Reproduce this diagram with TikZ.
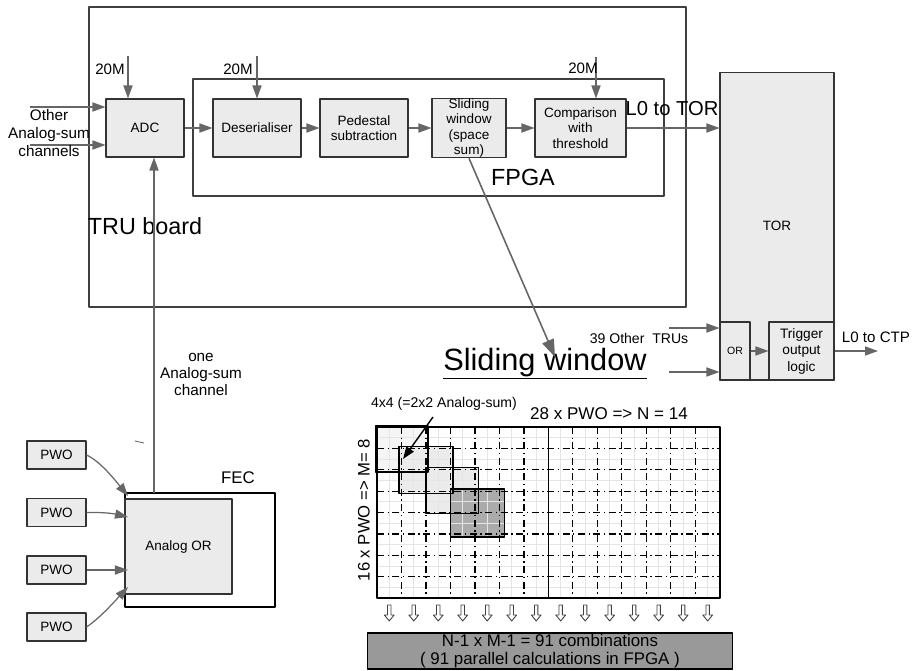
\documentclass[tikz,border=0pt]{standalone}
\usepackage{fontspec}
\setmainfont{Liberation Sans}
\usetikzlibrary{arrows.meta}

\begin{document}
\begin{tikzpicture}
% TRU board, TOR and sliding window sketch
\def\px{0.02cm}
\providecommand{\truBoxFill}{black!8}
\providecommand{\truLineColor}{black!60}
\providecommand{\truBorderColor}{black!80}
\providecommand{\hollowdn}[1]{\draw[black!75, line width=0.5pt] (#1-0.14,16.64) -- (#1+0.14,16.64) -- (#1+0.14,17.57) -- (#1+0.4,17.57) -- (#1,18.13) -- (#1-0.4,17.57) -- (#1-0.14,17.57) -- cycle;}
\tikzset{
  frame/.style={draw=black!75, line width=0.6pt},
  blk/.style={draw=\truBorderColor, fill=\truBoxFill, line width=0.6pt, inner sep=0pt, align=center, font=\fontsize{7.7}{8.9}\selectfont},
  sig/.style={draw=\truLineColor, line width=0.7pt, -{Triangle[length=7.4pt,width=5.2pt]}},
  bigsig/.style={draw=\truLineColor, line width=0.9pt, -{Triangle[length=10pt,width=7pt]}},
  lbl/.style={inner sep=0pt, align=center, font=\fontsize{8.7}{9.8}\selectfont},
  biglbl/.style={inner sep=0pt, font=\fontsize{13.3}{15}\selectfont},
}
\begin{scope}[x=\px, y=-\px, line join=round]
  \useasboundingbox (0,0) rectangle (913,670);
  % TRU board and FPGA frames
  \draw[frame] (89,7) rectangle (686,307);
  \node[biglbl] (trulbl) at (145,226) {TRU board};
  \draw[frame] (193,79) rectangle (664,196);
  \node[biglbl] (fpgalbl) at (523,177) {FPGA};
  % Processing chain
  \node[blk, minimum width=1.56cm, minimum height=1.16cm] (adc) at (145,128) {ADC};
  \node[blk, minimum width=1.76cm, minimum height=1.16cm] (deser) at (257,128) {Deserialiser};
  \node[blk, minimum width=1.76cm, minimum height=1.16cm] (pedsub) at (364,128) {Pedestal\\subtraction};
  \node[blk, minimum width=1.48cm, minimum height=1.16cm] (slidewin) at (469,128) {Sliding\\window\\(space\\sum)};
  \node[blk, minimum width=1.82cm, minimum height=1.16cm] (cmpthr) at (580.5,128) {Comparison\\with\\threshold};
  % TOR
  \node[blk, minimum width=2.28cm, minimum height=6.16cm] (tor) at (777,226) {TOR};
  \node[blk, minimum width=0.6cm, minimum height=1.16cm, font=\fontsize{6}{7}\selectfont] (orgate) at (735,351) {OR};
  \node[blk, minimum width=1.3cm, minimum height=1.16cm, font=\fontsize{7.8}{9.4}\selectfont] (trigout) at (801.5,351) {Trigger\\output\\logic};
  % Inputs of the ADC
  \coordinate (othA) at (30,107);
  \coordinate (othB) at (30,145);
  \draw[sig] (othA) -- (othA -| adc.west);
  \draw[sig] (othB) -- (othB -| adc.west);
  \node[lbl, font=\fontsize{8.7}{10.5}\selectfont] (othlbl) at (49,133) {Other\\Analog-sum\\channels};
  % Clocks
  \coordinate (clkA) at (128,56);
  \coordinate (clkB) at (257,56);
  \coordinate (clkC) at (596,57);
  \draw[sig] (clkA) -- (clkA |- adc.north);
  \draw[sig] (clkB) -- (clkB |- deser.north);
  \draw[sig] (clkC) -- (clkC |- cmpthr.north);
  \node[lbl, font=\fontsize{8.6}{9}\selectfont] (clkAlbl) at (110,69) {20M};
  \node[lbl, font=\fontsize{8.6}{9}\selectfont] (clkBlbl) at (238,69) {20M};
  \node[lbl, font=\fontsize{8.6}{9}\selectfont] (clkClbl) at (583,68) {20M};
  % Chain connectors
  \draw[sig] (adc) -- (deser);
  \draw[sig] (deser) -- (pedsub);
  \draw[sig] (pedsub) -- (slidewin);
  \draw[sig] (slidewin) -- (cmpthr);
  \draw[sig] (cmpthr.east) -- (cmpthr.east -| tor.west);
  \node[inner sep=0pt, font=\fontsize{11.5}{13}\selectfont] (l0tor) at (672,109) {L0 to TOR};
  % Other TRUs and output
  \coordinate (truA) at (669,328);
  \coordinate (truB) at (669,372);
  \draw[sig] (truA) -- (truA -| tor.west);
  \draw[sig] (truB) -- (truB -| tor.west);
  \node[lbl, font=\fontsize{8}{9}\selectfont] (trulbl39) at (639,338) {39 Other\ \ TRUs};
  \draw[sig] (orgate) -- (trigout);
  \coordinate (ctp) at (878,351);
  \draw[sig] (trigout) -- (ctp);
  \node[lbl, font=\fontsize{8.6}{9}\selectfont] (ctplbl) at (876,337) {L0 to CTP};
  % FEC with PWOs
  \draw[draw=black, line width=0.6pt] (125,493) rectangle (275,607);
  \node[inner sep=0pt, font=\fontsize{9.6}{11}\selectfont] (feclbl) at (238,478) {FEC};
  \node[blk, minimum width=2.14cm, minimum height=1.9cm] (anaor) at (178.5,546.5) {Analog OR};
  \node[blk, minimum width=1.18cm, minimum height=0.56cm] (pwoA) at (56.5,455) {PWO};
  \node[blk, minimum width=1.18cm, minimum height=0.56cm] (pwoB) at (56.5,512.5) {PWO};
  \node[blk, minimum width=1.18cm, minimum height=0.56cm] (pwoC) at (56.5,570) {PWO};
  \node[blk, minimum width=1.18cm, minimum height=0.56cm] (pwoD) at (56.5,627) {PWO};
  \coordinate (inA) at (128,496);
  \coordinate (inB) at (128,517);
  \coordinate (inC) at (128,570);
  \coordinate (inD) at (128,587);
  \draw[sig] (pwoA.east) .. controls (100,461) and (115,480) .. (inA);
  \draw[sig] (pwoB.east) .. controls (105,512) and (115,514) .. (inB);
  \draw[sig] (pwoC.east) -- (inC);
  \draw[sig] (pwoD.east) .. controls (100,618) and (115,601) .. (inD);
  \draw[draw=\truLineColor, line width=0.5pt] (135,441) -- (144,443);
  % Analog-sum channel up to the ADC
  \coordinate (chan) at (154,493);
  \draw[sig] (chan) -- (chan |- adc.south);
  \node[lbl, font=\fontsize{8.7}{9.7}\selectfont] (chanlbl) at (201,374) {one\\Analog-sum\\channel};
  % Sliding window
  \node[inner sep=0pt, anchor=base, font=\fontsize{17.5}{20}\selectfont] (swlbl) at (545,370) {\underline{Sliding window}};
  \coordinate (swtip) at (555,357);
  \draw[bigsig] (slidewin.south) -- (swtip);
  \node[lbl, font=\fontsize{9.7}{11}\selectfont] (nlbl) at (609,414) {28 x PWO => N = 14};
  \node[lbl, font=\fontsize{9.5}{11}\selectfont, rotate=90] (mlbl) at (364,510) {16 x PWO => M= 8};
  \node[lbl, font=\fontsize{8}{9}\selectfont] (winlbl) at (444,404) {4x4 (=2x2 Analog-sum)};
  \begin{scope}[shift={(377,427)}, x=0.245cm, y=-0.214cm]
    % Window fills
    \fill[black!4] (-0.1,-0.1) rectangle (4.15,4.2);
    \fill[black!8] (1.8,1.8) rectangle (6.2,6.2);
    \fill[black!8] (4,3.8) rectangle (8.3,8.1);
    \fill[black!33] (6,5.8) rectangle (10.4,10.3);
    % Fine PWO grid
    \begin{scope}[draw=black!10, line width=0.6pt]
      \draw (1,0) -- (1,16);
      \draw (3,0) -- (3,16);
      \draw (5,0) -- (5,16);
      \draw (7,0) -- (7,16);
      \draw (9,0) -- (9,16);
      \draw (11,0) -- (11,16);
      \draw (13,0) -- (13,16);
      \draw (15,0) -- (15,16);
      \draw (17,0) -- (17,16);
      \draw (19,0) -- (19,16);
      \draw (21,0) -- (21,16);
      \draw (23,0) -- (23,16);
      \draw (25,0) -- (25,16);
      \draw (27,0) -- (27,16);
      \draw (0,1) -- (28,1);
      \draw (0,3) -- (28,3);
      \draw (0,5) -- (28,5);
      \draw (0,7) -- (28,7);
      \draw (0,9) -- (28,9);
      \draw (0,11) -- (28,11);
      \draw (0,13) -- (28,13);
      \draw (0,15) -- (28,15);
    \end{scope}
    % Analog-sum grid
    \begin{scope}[draw=black, line width=0.6pt, dash pattern=on 4pt off 2pt on 0.8pt off 2pt]
      \draw (2,0) -- (2,16);
      \draw (4,0) -- (4,16);
      \draw (6,0) -- (6,16);
      \draw (8,0) -- (8,16);
      \draw (10,0) -- (10,16);
      \draw (12,0) -- (12,16);
      \draw (16,0) -- (16,16);
      \draw (18,0) -- (18,16);
      \draw (20,0) -- (20,16);
      \draw (22,0) -- (22,16);
      \draw (24,0) -- (24,16);
      \draw (26,0) -- (26,16);
      \draw (0,2) -- (28,2);
      \draw (0,4) -- (28,4);
      \draw (0,6) -- (28,6);
      \draw (0,8) -- (28,8);
      \draw (0,10) -- (28,10);
      \draw (0,12) -- (28,12);
      \draw (0,14) -- (28,14);
    \end{scope}
    \draw[black, line width=0.8pt] (14,0) -- (14,16);
    \draw[black, line width=0.8pt] (0,0) rectangle (28,16);
    % Window outlines
    \draw[black, line width=0.8pt] (-0.1,-0.1) rectangle (4.15,4.2);
    \draw[black, line width=0.8pt] (1.8,1.8) rectangle (6.2,6.2);
    \draw[black, line width=0.8pt] (4,3.8) rectangle (8.3,8.1);
    \draw[black, line width=0.8pt] (6,5.8) rectangle (10.4,10.3);
    % Column outputs
    \hollowdn{1}
    \hollowdn{3}
    \hollowdn{5}
    \hollowdn{7}
    \hollowdn{9}
    \hollowdn{11}
    \hollowdn{13}
    \hollowdn{15}
    \hollowdn{17}
    \hollowdn{19}
    \hollowdn{21}
    \hollowdn{23}
    \hollowdn{25}
    \hollowdn{27}
  \end{scope}
  \coordinate (wintail) at (433,417);
  \coordinate (winhead) at (403,459);
  \draw[black, line width=0.8pt, -{Triangle[length=7pt,width=5pt]}] (wintail) -- (winhead);
  \node[draw=black, fill=black!40, line width=0.6pt, minimum width=7.32cm, minimum height=0.72cm, inner sep=0pt, align=center, font=\fontsize{9.6}{10.3}\selectfont] (combi) at (550,651) {N-1 x M-1 = 91 combinations\\( 91 parallel calculations in FPGA )};
\end{scope}
\end{tikzpicture}
\end{document}
